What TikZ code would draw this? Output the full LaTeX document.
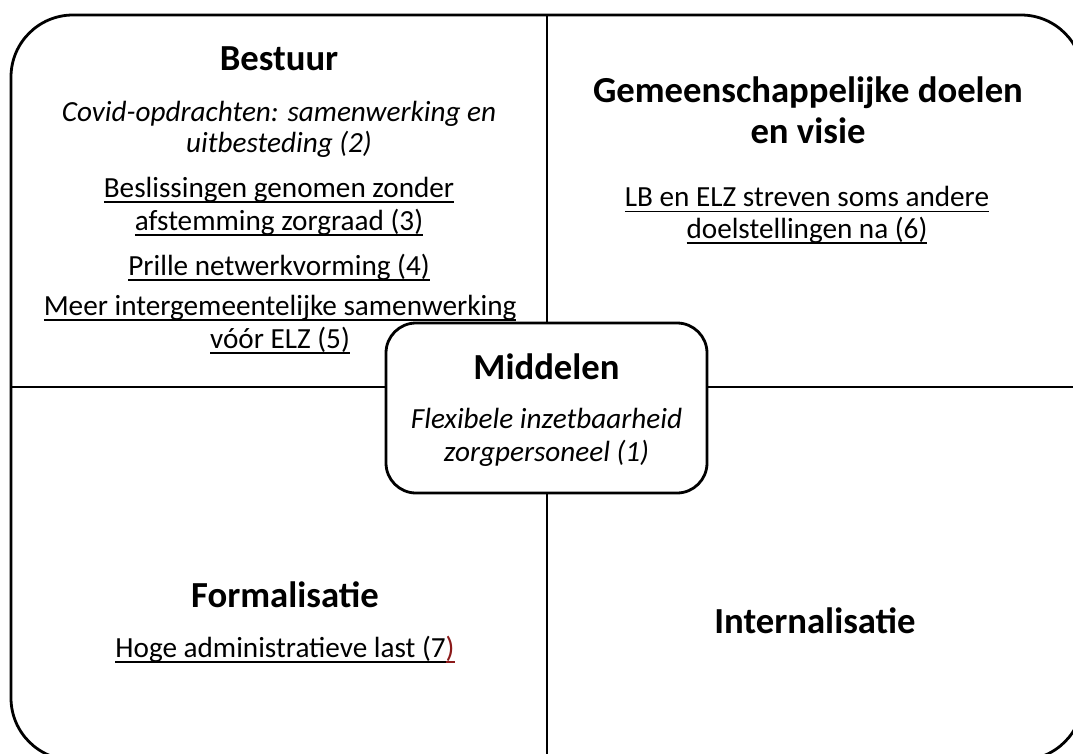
\documentclass[tikz,border=0pt]{standalone}
\usepackage{fontspec}
\setmainfont{Carlito}
\usepackage{xcolor}
\definecolor{darkred}{HTML}{8B1A1A}

% underline at a fixed depth below the baseline, independent of descenders
\newcommand\ulbox[1]{\setbox0\hbox{#1}\leavevmode\rlap{\rule[-5.5pt]{\wd0}{1.9pt}}\box0}

\tikzset{
  frame/.style={line width=2.8pt},
  head/.style={anchor=base, inner sep=0pt, font=\fontsize{36.7pt}{42pt}\selectfont\bfseries},
  body/.style={anchor=base, inner sep=0pt, font=\fontsize{29.2pt}{34pt}\selectfont},
  bodyit/.style={body, font=\fontsize{29.2pt}{34pt}\selectfont\itshape},
  centerbox/.style={draw, frame, fill=white, rounded corners=30pt,
    minimum width=321pt, minimum height=170pt, inner sep=0pt}
}

\begin{document}
\begin{tikzpicture}[x=1pt, y=-1pt]
\useasboundingbox (0,0) rectangle (1073,754);
\clip (0,0) rectangle (1073,754);

% quadrant frame and dividers
\draw[frame, rounded corners=62pt] (11,15) rectangle (1083,760);
\draw[frame] (547,15) -- (547,760);
\draw[frame] (11,387) -- (1083,387);

% centre box
\node[centerbox] (mid) at (546.5,408) {};

% Bestuur
\node[head] (bestuur) at (279,71) {Bestuur};
\node[bodyit] (b1a) at (279,122) {Covid-opdrachten: samenwerking en};
\node[bodyit] (b1b) at (279,153) {uitbesteding (2)};
\node[body] (b3a) at (279,197) {\ulbox{Beslissingen genomen zonder}};
\node[body] (b3b) at (279,230) {\ulbox{afstemming zorgraad (3)}};
\node[body] (b4) at (279,275) {\ulbox{Prille netwerkvorming (4)}};
\node[body] (b5a) at (280,315) {\ulbox{Meer intergemeentelijke samenwerking}};
\node[body] (b5b) at (280,348) {\ulbox{vóór ELZ (5)}};

% Gemeenschappelijke doelen en visie
\node[head] (doel1) at (808,103) {Gemeenschappelijke doelen};
\node[head] (doel2) at (808,144) {en visie};
\node[body] (d6a) at (807,207) {\ulbox{LB en ELZ streven soms andere}};
\node[body] (d6b) at (807,238) {\ulbox{doelstellingen na (6)}};

% Middelen
\node[head] (middelen) at (546.5,379) {Middelen};
\node[bodyit] (m1a) at (546.5,428) {Flexibele inzetbaarheid};
\node[bodyit] (m1b) at (546.5,461) {zorgpersoneel (1)};

% Formalisatie
\node[head] (formal) at (285,607) {Formalisatie};
\node[body] (f7) at (285,657) {\ulbox{Hoge administratieve last (7}\textcolor{darkred}{\ulbox{)}}};

% Internalisatie
\node[head] (intern) at (815,633) {Internalisatie};
\end{tikzpicture}
\end{document}
